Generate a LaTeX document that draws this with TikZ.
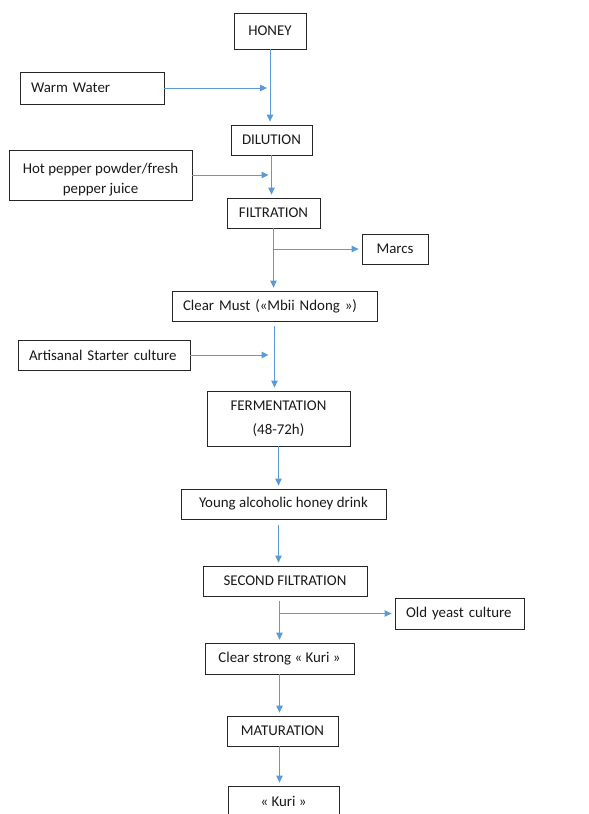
\documentclass[tikz,border=0pt]{standalone}
\usepackage{fontspec}
\setmainfont{Carlito}
\usetikzlibrary{arrows.meta,positioning}
\definecolor{flowblue}{RGB}{91,155,213}
\begin{document}
\begin{tikzpicture}[x=1pt,y=-1pt,
 font=\fontsize{14.9}{18}\selectfont,
 box/.style={draw=black!85,line width=0.8pt,inner sep=0pt,align=center,text=black!90},
 leftbox/.style={box,align=left,inner xsep=11pt},
 flow/.style={-{Triangle[length=7pt,width=6.5pt]},draw=flowblue,line width=1pt,shorten >=3pt}]
\useasboundingbox (0,0) rectangle (589,814);
\node[box,minimum width=72pt,minimum height=36pt] (honey) at (270,31) {HONEY};
\node[leftbox,text width=122pt,minimum height=32pt] (water) at (92,88) {Warm Water};
\node[box,minimum width=81pt,minimum height=30pt] (dilution) at (271.5,140) {DILUTION};
\node[box,minimum width=183pt,minimum height=50pt] (pepper) at (100.5,175)
 {\rule{0pt}{20pt}Hot pepper powder/fresh\\[2pt]pepper juice};
\node[box,minimum width=93pt,minimum height=30pt] (filt) at (273.5,213) {FILTRATION};
\node[box,minimum width=66pt,minimum height=30pt] (marcs) at (395,249) {Marcs};
\node[leftbox,text width=183pt,minimum height=30pt] (must) at (274.5,306) {Clear Must («Mbii Ndong »)};
\node[leftbox,text width=150pt,minimum height=30pt] (starter) at (104,355) {Artisanal Starter culture};
\node[box,minimum width=143pt,minimum height=55pt] (ferm) at (278.5,418.5) {FERMENTATION\\[6pt](48-72h)};
\node[box,minimum width=205pt,minimum height=30pt] (young) at (283.5,504) {Young alcoholic honey drink};
\node[box,minimum width=164pt,minimum height=30pt] (filt2) at (285,581) {SECOND FILTRATION};
\node[leftbox,text width=107pt,minimum height=31pt] (yeast) at (459.5,613.5) {Old yeast culture};
\node[box,minimum width=149pt,minimum height=31pt] (strong) at (279.5,658.5) {Clear strong « Kuri »};
\node[box,minimum width=111pt,minimum height=30pt] (matur) at (282.5,731) {MATURATION};
\node[box,minimum width=111pt,minimum height=30pt] (kuri) at (283.5,801) {« Kuri »};
\draw[flow] (honey.south) -- (honey.south |- dilution.north);
\draw[flow] (water.east) -- (water.east -| honey.south);
\draw[flow] (dilution.south) -- (dilution.south |- filt.north);
\draw[flow] (pepper.east) -- (pepper.east -| dilution.south);
\draw[flow] (filt.south) -- (filt.south |- must.north);
\draw[flow] (filt.south |- marcs.west) -- (marcs.west);
\draw[flow,shorten <=5pt] (must.south) -- (must.south |- ferm.north);
\draw[flow,shorten >=6pt] (starter.east) -- (starter.east -| must.south);
\draw[flow] (ferm.south) -- (ferm.south |- young.north);
\draw[flow,shorten <=6pt] (young.south -| ferm.south) -- (ferm.south |- filt2.north);
\draw[flow,shorten <=5pt] (filt2.south -| strong.north) -- (strong.north);
\draw[flow] (strong.north |- yeast.west) -- (yeast.west);
\draw[flow] (strong.south) -- (strong.south |- matur.north);
\draw[flow] (matur.south -| strong.south) -- (strong.south |- kuri.north);
\end{tikzpicture}
\end{document}
